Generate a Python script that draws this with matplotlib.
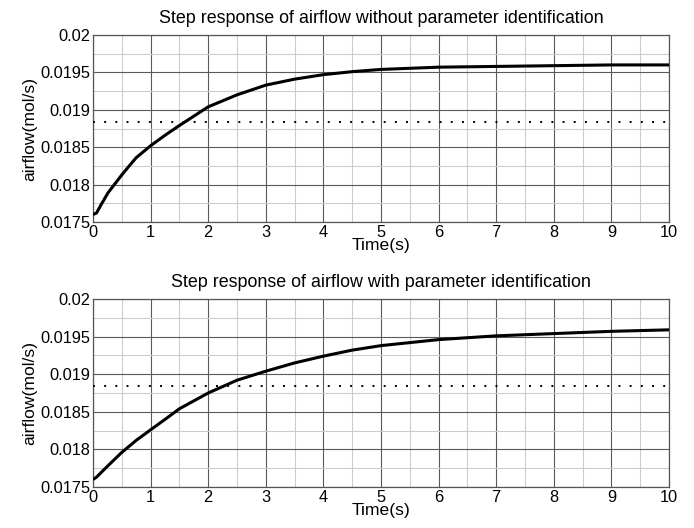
import numpy as np
import matplotlib.pyplot as plt
from matplotlib.ticker import MultipleLocator

plt.rcParams['font.family'] = ['Liberation Sans', 'DejaVu Sans']

# time points and airflow (mol/s), without parameter identification
t_without = [0, 0.06, 0.14, 0.26, 0.38, 0.5, 0.64, 0.75, 1, 1.27, 1.5, 2, 2.5, 3,
             3.5, 4, 4.5, 5, 6, 7, 8, 9, 10]
flow_without = [0.01760, 0.01762, 0.01773, 0.01789, 0.01801, 0.01813, 0.01826, 0.01836,
                0.01852, 0.01867, 0.01879, 0.01904, 0.01920, 0.01933, 0.01941, 0.01947,
                0.01951, 0.01954, 0.01957, 0.01958, 0.01959, 0.01960, 0.01960]

# with parameter identification
t_with = [0, 0.06, 0.23, 0.5, 0.75, 1, 1.27, 1.5, 2, 2.5, 3, 3.5, 4, 4.5, 5,
          6, 7, 8, 9, 10]
flow_with = [0.01760, 0.01763, 0.01776, 0.01796, 0.01812, 0.01826, 0.01841, 0.01854,
             0.01875, 0.01892, 0.01904, 0.01915, 0.01924, 0.01932, 0.01938,
             0.01946, 0.01951, 0.01954, 0.01957, 0.01959]

setpoint = 0.01884

titles = ['Step response of airflow without parameter identification',
          'Step response of airflow with parameter identification']

fig = plt.figure(figsize=(6.94, 5.28), dpi=100)
ax1 = fig.add_axes([0.134, 0.5795, 0.830, 0.3542])
ax2 = fig.add_axes([0.134, 0.0777, 0.830, 0.3560])

for ax, x, y, title in zip([ax1, ax2], [t_without, t_with], [flow_without, flow_with], titles):
    ax.plot(x, y, color='black', lw=2.2, solid_capstyle='butt', solid_joinstyle='round', zorder=3)
    ax.axhline(setpoint, color='black', lw=1.4, linestyle=(0, (1, 4.75)),
               dash_capstyle='butt', zorder=3)
    ax.set_xlim(0, 10)
    ax.set_ylim(0.0175, 0.02)
    ax.xaxis.set_major_locator(MultipleLocator(1))
    ax.xaxis.set_minor_locator(MultipleLocator(0.5))
    ax.yaxis.set_minor_locator(MultipleLocator(0.00025))
    ax.set_yticks([0.0175, 0.018, 0.0185, 0.019, 0.0195, 0.02])
    ax.set_yticklabels(['0.0175', '0.018', '0.0185', '0.019', '0.0195', '0.02'])
    ax.grid(which='major', color='#5a5a5a', lw=0.8)
    ax.grid(which='minor', color='#cccccc', lw=0.8)
    ax.set_axisbelow(True)
    ax.tick_params(which='both', length=0, labelsize=11.8, pad=2)
    for s in ax.spines.values():
        s.set_color('#555555')
        s.set_linewidth(0.9)
    ax.set_title(title, fontsize=12.9, pad=9)
    ax.set_xlabel('Time(s)', fontsize=12.6, labelpad=-1)
    ax.set_ylabel('airflow(mol/s)', fontsize=12.6, labelpad=2)

fig.savefig('out.png', dpi=100)
